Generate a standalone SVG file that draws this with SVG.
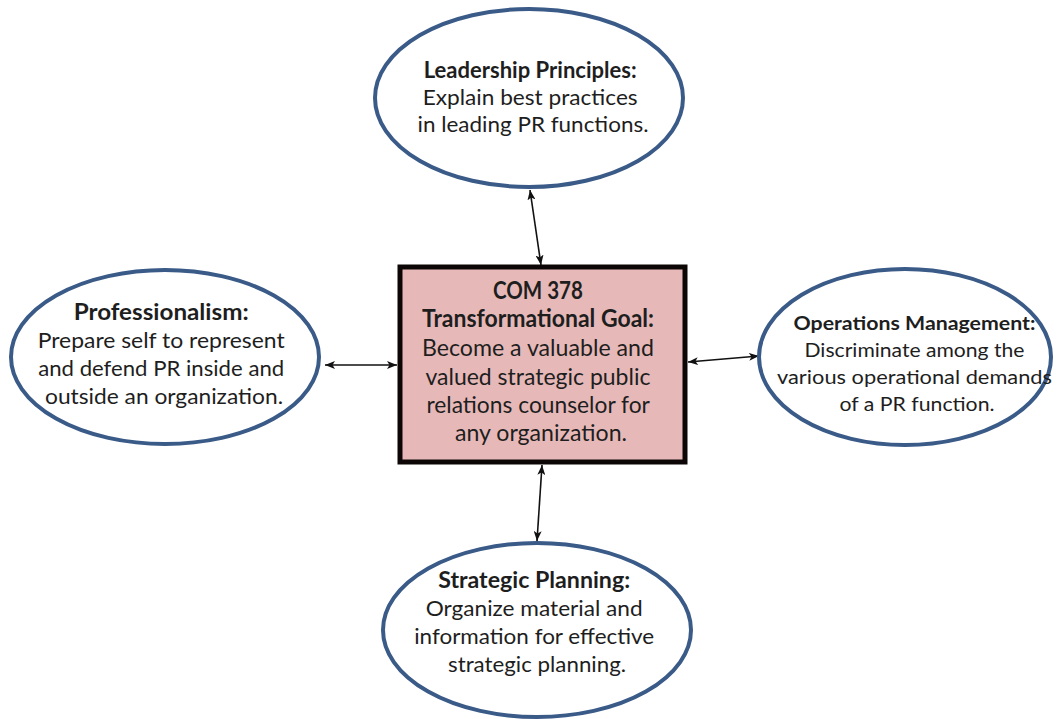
<svg xmlns="http://www.w3.org/2000/svg" width="1057" height="719" viewBox="0 0 1057 719">
  <style>
    .bubble { fill: #ffffff; stroke: #3a5a88; stroke-width: 4; }
    .goal { fill: #e6b9b8; stroke: #0d0606; stroke-width: 5; }
    .lbl { font-family: Lato, "Liberation Sans", sans-serif; fill: #1e1e1e; text-anchor: middle; font-size: 22px; }
    .lbl .t { font-weight: bold; }
    .goal-lbl { font-size: 24px; }
    .ops-lbl { font-size: 19.5px; }
    .link { stroke: #111111; stroke-width: 1.6; fill: none; marker-start: url(#tip); marker-end: url(#tip); }
  </style>
  <defs>
    <marker id="tip" viewBox="0 0 10 8" refX="10" refY="4" markerWidth="10" markerHeight="8" markerUnits="userSpaceOnUse" orient="auto-start-reverse">
      <path d="M0,0 L10,4 L0,8 L2.5,4 Z" fill="#111111"/>
    </marker>
  </defs>
  <rect width="1057" height="719" fill="#ffffff"/>

  <!-- connectors between the goal and the four themes -->
  <g id="connectors">
    <line class="link" x1="530" y1="190" x2="541" y2="265"/>
    <line class="link" x1="325" y1="365" x2="397" y2="365"/>
    <line class="link" x1="688" y1="362" x2="759" y2="356"/>
    <line class="link" x1="542" y1="465" x2="537" y2="541"/>
  </g>

  <g id="goal">
    <rect class="goal" x="400" y="267" width="285" height="195"/>
    <text class="lbl goal-lbl">
      <tspan class="t" x="541" y="299" textLength="90" lengthAdjust="spacingAndGlyphs">COM 378</tspan>
      <tspan class="t" x="541" y="327" textLength="232" lengthAdjust="spacingAndGlyphs">Transformational  Goal:</tspan>
      <tspan x="541" y="356" textLength="232" lengthAdjust="spacingAndGlyphs">Become a valuable and</tspan>
      <tspan x="541" y="385" textLength="225" lengthAdjust="spacingAndGlyphs">valued strategic public</tspan>
      <tspan x="541" y="413" textLength="223" lengthAdjust="spacingAndGlyphs">relations counselor for</tspan>
      <tspan x="541" y="441" textLength="172" lengthAdjust="spacingAndGlyphs">any organization.</tspan>
    </text>
  </g>

  <g id="leadership">
    <ellipse class="bubble" cx="529" cy="98" rx="154" ry="89"/>
    <text class="lbl">
      <tspan class="t" x="533" y="78" textLength="213" lengthAdjust="spacingAndGlyphs">Leadership Principles:</tspan>
      <tspan x="533" y="105" textLength="215" lengthAdjust="spacingAndGlyphs">Explain best practices</tspan>
      <tspan x="533" y="132" textLength="231" lengthAdjust="spacingAndGlyphs">in leading PR functions.</tspan>
    </text>
  </g>

  <g id="professionalism">
    <ellipse class="bubble" cx="165" cy="357" rx="154" ry="87"/>
    <text class="lbl">
      <tspan class="t" x="164" y="320" textLength="175" lengthAdjust="spacingAndGlyphs">Professionalism:</tspan>
      <tspan x="164" y="348" textLength="247" lengthAdjust="spacingAndGlyphs">Prepare self to represent</tspan>
      <tspan x="164" y="376" textLength="246" lengthAdjust="spacingAndGlyphs">and defend PR inside and</tspan>
      <tspan x="164" y="404" textLength="238" lengthAdjust="spacingAndGlyphs">outside an organization.</tspan>
    </text>
  </g>

  <g id="operations">
    <ellipse class="bubble" cx="905" cy="357" rx="146" ry="88"/>
    <text class="lbl ops-lbl">
      <tspan class="t" x="917" y="330" textLength="242" lengthAdjust="spacingAndGlyphs">Operations Management:</tspan>
      <tspan x="917" y="357" textLength="220" lengthAdjust="spacingAndGlyphs">Discriminate among the</tspan>
      <tspan x="917" y="384" textLength="275" lengthAdjust="spacingAndGlyphs">various operational demands</tspan>
      <tspan x="917" y="411" textLength="155" lengthAdjust="spacingAndGlyphs">of a PR function.</tspan>
    </text>
  </g>

  <g id="planning">
    <ellipse class="bubble" cx="537" cy="630" rx="154" ry="87"/>
    <text class="lbl">
      <tspan class="t" x="537" y="588" textLength="192" lengthAdjust="spacingAndGlyphs">Strategic Planning:</tspan>
      <tspan x="537" y="616" textLength="217" lengthAdjust="spacingAndGlyphs">Organize material and</tspan>
      <tspan x="537" y="644" textLength="240" lengthAdjust="spacingAndGlyphs">information for effective</tspan>
      <tspan x="537" y="672" textLength="178" lengthAdjust="spacingAndGlyphs">strategic planning.</tspan>
    </text>
  </g>
</svg>
